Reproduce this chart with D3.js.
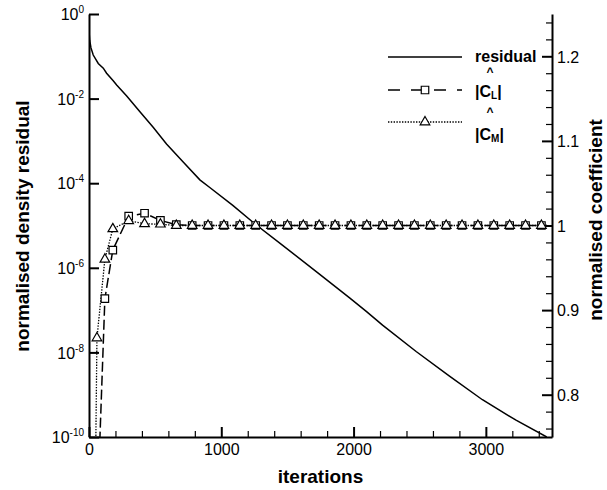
<!DOCTYPE html>
<html><head><meta charset="utf-8">
<script src="https://cdn.jsdelivr.net/npm/d3@7"></script>
<style>
body{margin:0;background:#fff}
svg{display:block}
text{font-family:"Liberation Sans",Arial,Helvetica,sans-serif;fill:#000}
</style>
</head><body>
<svg id="c" width="607" height="490"></svg>
<script>
// ---- data ----
const residIter = [0,5,15,32,70,108,133,183,209,285,385,485,586,712,838,913,1087,1253,1464,1718,1970,2096,2219,2473,2725,2974,3228,3460];
const residVal  = [0.398,0.240,0.158,0.107,0.0676,0.0525,0.0398,0.0263,0.0209,0.01148,4.9e-3,2.09e-3,8.5e-4,3.16e-4,1.2e-4,7.9e-5,3.0e-5,1.1e-5,3.4e-6,8.1e-7,1.95e-7,9.3e-8,4.4e-8,1.05e-8,2.75e-9,7.6e-10,2.5e-10,1.0e-10];

const coefIter = [0,60,120,180,300,420,540,660,780,900,1020,1140,1260,1380,1500,1620,1740,1860,1980,2100,2220,2340,2460,2580,2700,2820,2940,3060,3180,3300,3420,3460];
const clVal = [0,0.65,0.9135,0.971,1.011,1.0145,1.006,1.001,1,1,1,1,1,1,1,1,1,1,1,1,1,1,1,1,1,1,1,1,1,1,1,1];
const cmVal = [0,0.867,0.960,0.996,1.0056,1.002,1.0015,1.0,1,1,1,1,1,1,1,1,1,1,1,1,1,1,1,1,1,1,1,1,1,1,1,1];

const xTicks = [0,1000,2000,3000];
const xTickLabels = ["0","1000","2000","3000"];
const xMinorTicks = [200,400,600,800,1200,1400,1600,1800,2200,2400,2600,2800,3200,3400];
const leftTicks = [1,1e-2,1e-4,1e-6,1e-8,1e-10];
const leftTickExp = ["0","-2","-4","-6","-8","-10"];
const rightTicks = [0.8,0.9,1.0,1.1,1.2];
const rightTickLabels = ["0.8","0.9","1","1.1","1.2"];
const rightMinorTicks = [0.76,0.78,0.82,0.84,0.86,0.88,0.92,0.94,0.96,0.98,1.02,1.04,1.06,1.08,1.12,1.14,1.16,1.18,1.22,1.24];

// ---- layout ----
const L=89, R=552, T=14, B=437;
const FONT = '"Liberation Sans",Arial,Helvetica,sans-serif';
const svg = d3.select("#c");
const x  = d3.scaleLinear([0,3500],[L,R]);
const yL = d3.scaleLog([1e-10,1],[B,T]);
const yR = d3.scaleLinear([0.75,1.25],[B,T]);

svg.append("defs").append("clipPath").attr("id","clip")
  .append("rect").attr("x",L).attr("y",T).attr("width",R-L).attr("height",B-T);

function styleAxis(g, w){
  g.attr("font-family",FONT).attr("font-size",16);
  g.select(".domain").attr("stroke","#000").attr("stroke-width",2);
  g.selectAll(".tick line").attr("stroke","#000").attr("stroke-width",w);
  g.selectAll(".tick text").attr("fill","#000");
}

// bottom axis
const gxm = svg.append("g").attr("transform",`translate(0,${B})`)
  .call(d3.axisBottom(x).tickValues(xMinorTicks).tickSize(-6).tickSizeOuter(0).tickFormat(""));
styleAxis(gxm,1.2); gxm.select(".domain").remove();
const gx = svg.append("g").attr("transform",`translate(0,${B})`)
  .call(d3.axisBottom(x).tickValues(xTicks).tickSize(-10).tickSizeOuter(0).tickPadding(7)
        .tickFormat((d,i)=>xTickLabels[i]));
styleAxis(gx,2);

// left axis
const gy = svg.append("g").attr("transform",`translate(${L},0)`)
  .call(d3.axisLeft(yL).tickValues(leftTicks).tickSize(-10).tickSizeOuter(0).tickPadding(5).tickFormat(""));
styleAxis(gy,2);
gy.selectAll(".tick text").each(function(d,i){
  const t = d3.select(this).attr("dy","0.36em");
  t.text(null);
  t.append("tspan").text("10");
  t.append("tspan").attr("dy",-7).attr("font-size",10).text(leftTickExp[i]);
});

// right axis
const grm = svg.append("g").attr("transform",`translate(${R},0)`)
  .call(d3.axisRight(yR).tickValues(rightMinorTicks).tickSize(-6).tickSizeOuter(0).tickFormat(""));
styleAxis(grm,1.2); grm.select(".domain").remove();
const gr = svg.append("g").attr("transform",`translate(${R},0)`)
  .call(d3.axisRight(yR).tickValues(rightTicks).tickSize(-10).tickSizeOuter(0).tickPadding(5)
        .tickFormat((d,i)=>rightTickLabels[i]));
styleAxis(gr,2);
gr.selectAll(".tick text").attr("dy","0.36em");

// ---- data marks ----
const plot = svg.append("g").attr("clip-path","url(#clip)");
const resid = residIter.map((it,i)=>[it,residVal[i]]);
plot.append("path").datum(resid)
  .attr("d", d3.line().x(d=>x(d[0])).y(d=>yL(d[1])))
  .attr("fill","none").attr("stroke","#000").attr("stroke-width",1.5);

const cl = coefIter.map((it,i)=>[it,clVal[i]]);
const cm = coefIter.map((it,i)=>[it,cmVal[i]]);
const lineR = d3.line().x(d=>x(d[0])).y(d=>yR(d[1]));

plot.append("path").datum(cl).attr("d",lineR)
  .attr("fill","none").attr("stroke","#000").attr("stroke-width",1.5).attr("stroke-dasharray","10,4");
plot.append("path").datum(cm).attr("d",lineR)
  .attr("fill","none").attr("stroke","#000").attr("stroke-width",1.3).attr("stroke-dasharray","1.4,1.4");

const sq = d3.symbol().type(d3.symbolSquare).size(56);
const tri = d3.symbol().type(d3.symbolTriangle).size(40);
plot.selectAll(".sq").data(cl.slice(0,-1)).join("path").attr("class","sq")
  .attr("transform",d=>`translate(${x(d[0])},${yR(d[1])})`).attr("d",sq)
  .attr("fill","#fff").attr("stroke","#000").attr("stroke-width",1.2);
plot.selectAll(".tri").data(cm.slice(0,-1)).join("path").attr("class","tri")
  .attr("transform",d=>`translate(${x(d[0])},${yR(d[1])})`).attr("d",tri)
  .attr("fill","#fff").attr("stroke","#000").attr("stroke-width",1.2);

// ---- titles ----
svg.append("text").attr("transform",`translate(29,226) rotate(-90)`)
  .attr("text-anchor","middle").attr("font-size",19).attr("font-weight","bold")
  .text("normalised density residual");
svg.append("text").attr("transform",`translate(602,220) rotate(-90)`)
  .attr("text-anchor","middle").attr("font-size",19).attr("font-weight","bold")
  .text("normalised coefficient");
svg.append("text").attr("x",320.5).attr("y",483)
  .attr("text-anchor","middle").attr("font-size",19).attr("font-weight","bold")
  .text("iterations");

// ---- legend ----
const lg = svg.append("g");
lg.append("line").attr("x1",388).attr("x2",462).attr("y1",57).attr("y2",57)
  .attr("stroke","#000").attr("stroke-width",1.5);
lg.append("line").attr("x1",388).attr("x2",462).attr("y1",90).attr("y2",90)
  .attr("stroke","#000").attr("stroke-width",1.5).attr("stroke-dasharray","12,11");
lg.append("path").attr("transform","translate(425,90)").attr("d",sq)
  .attr("fill","#fff").attr("stroke","#000").attr("stroke-width",1.2);
lg.append("line").attr("x1",388).attr("x2",462).attr("y1",122).attr("y2",122)
  .attr("stroke","#000").attr("stroke-width",1.3).attr("stroke-dasharray","1.4,1.4");
lg.append("path").attr("transform","translate(425,122)").attr("d",tri)
  .attr("fill","#fff").attr("stroke","#000").attr("stroke-width",1.2);

lg.append("text").attr("x",475).attr("y",62).attr("font-size",16).attr("font-weight","bold").text("residual");
lg.append("text").attr("x",490).attr("y",76).attr("text-anchor","middle").attr("font-size",12).attr("font-weight","bold").text("^");
const t1 = lg.append("text").attr("x",475).attr("y",97).attr("font-size",16).attr("font-weight","bold");
t1.append("tspan").text("|C");
t1.append("tspan").attr("font-size",10).attr("dy",2).text("L");
t1.append("tspan").attr("dy",-2).text("|");
lg.append("text").attr("x",490).attr("y",116).attr("text-anchor","middle").attr("font-size",12).attr("font-weight","bold").text("^");
const t2 = lg.append("text").attr("x",475).attr("y",140).attr("font-size",16).attr("font-weight","bold");
t2.append("tspan").text("|C");
t2.append("tspan").attr("font-size",10).attr("dy",2).text("M");
t2.append("tspan").attr("dy",-2).text("|");
</script>
</body></html>
